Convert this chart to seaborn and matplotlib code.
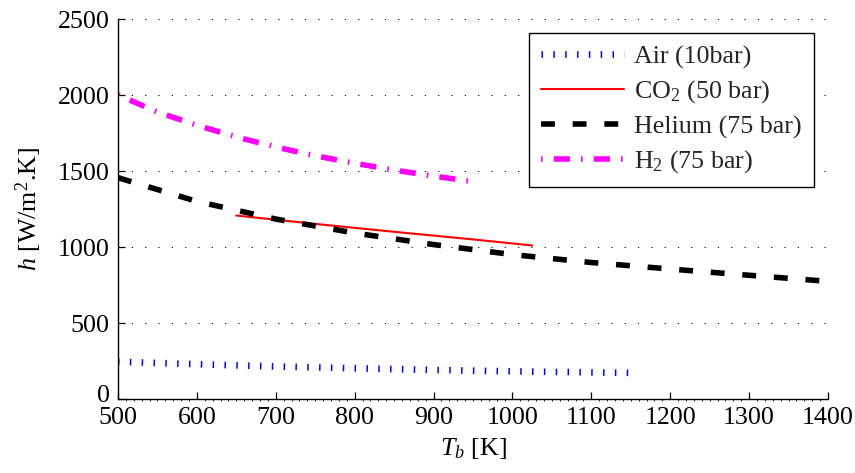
import matplotlib
matplotlib.use("Agg")
import matplotlib.pyplot as plt
import matplotlib.transforms as mtransforms
from matplotlib.ticker import MultipleLocator
import seaborn as sns
import pandas as pd

# ---- data ----
air_T = [500, 600, 700, 800, 900, 1000, 1100, 1150]
air_h = [245, 229, 214, 202, 191, 182, 175, 172]

co2_T = [650, 750, 850, 950, 1025]
co2_h = [1207, 1152, 1100, 1050, 1010]

he_T = [500, 600, 700, 800, 900, 1000, 1100, 1200, 1300, 1400]
he_h = [1456, 1300, 1184, 1092, 1016, 950, 898, 855, 814, 774]

h2_T = [500, 550, 600, 650, 700, 750, 800, 850, 900, 950]
h2_h = [2000, 1888, 1801, 1724, 1658, 1600, 1551, 1506, 1467, 1430]

labels = ["Air (10bar)", "CO$_2$ (50 bar)", "Helium (75 bar)", "H$_2$ (75 bar)"]
x_ticks = [500, 600, 700, 800, 900, 1000, 1100, 1200, 1300, 1400]
y_ticks = [0, 500, 1000, 1500, 2000, 2500]

sns.set_theme(style="white")
plt.rcParams["font.family"] = ["Liberation Serif", "DejaVu Serif"]
plt.rcParams["mathtext.fontset"] = "custom"
plt.rcParams["mathtext.rm"] = "Liberation Serif"
plt.rcParams["mathtext.it"] = "Liberation Serif:italic"
plt.rcParams["mathtext.bf"] = "Liberation Serif:bold"
plt.rcParams["lines.dash_capstyle"] = "butt"

FS = 18.7

fig = plt.figure(figsize=(8.55, 4.73), dpi=100)
ax = fig.add_axes([118 / 855, 74 / 473, 710 / 855, 380 / 473])

series = [
    (air_T, air_h, "blue", 4.8, (0, (0.225, 1.55))),
    (co2_T, co2_h, "red", 1.5, "-"),
    (he_T, he_h, "black", 4.0, (0, (2.5, 3.2))),
    (h2_T, h2_h, "magenta", 4.0, (0, (0.3, 2.0, 2.9, 2.0))),
]

handles = []
for (T, h, col, lw, ls), lab in zip(series, labels):
    df = pd.DataFrame({"T": T, "h": h})
    sns.lineplot(data=df, x="T", y="h", ax=ax, color=col, linewidth=lw,
                 legend=False, estimator=None, sort=False)
    line = ax.lines[-1]
    line.set_linestyle(ls)
    line.set_dash_capstyle("butt")
    line.set_label(lab)
    handles.append(line)

ax.set_xlim(500, 1400)
ax.set_ylim(0, 2500)
ax.set_xticks(x_ticks)
ax.set_yticks(y_ticks)
ax.xaxis.set_minor_locator(MultipleLocator(10))

for sp in ["top", "right"]:
    ax.spines[sp].set_visible(False)
for sp in ["left", "bottom"]:
    ax.spines[sp].set_color("black")
    ax.spines[sp].set_linewidth(1.0)

ax.tick_params(axis="both", which="major", direction="in", length=5, width=0.9,
               color="black", labelsize=FS, labelcolor="black")
ax.tick_params(axis="x", which="major", pad=6, bottom=True)
ax.tick_params(axis="y", which="major", pad=6, left=True)
ax.tick_params(axis="x", which="minor", direction="out", length=1.5, width=0.6,
               color="black", bottom=True)

# nudge the "0" y tick label up slightly so it does not collide with "500"
zero_lab = ax.get_yticklabels()[0]
zero_lab.set_transform(zero_lab.get_transform() +
                       mtransforms.ScaledTranslation(0, 4 / 72, fig.dpi_scale_trans))

ax.grid(False)
for yv in y_ticks[1:]:
    ax.axhline(yv, color="black", linewidth=0.7, linestyle=(0, (1.2, 12.5)), zorder=0.5)

ax.set_xlabel("$T_b$ [K]", fontsize=FS, color="black", labelpad=5)
ax.set_ylabel("$h$ [W/m$^2$.K]", fontsize=FS, color="black", labelpad=10)

leg = ax.legend(handles=handles, labels=labels, loc="upper right", fontsize=FS,
                frameon=True, fancybox=False, framealpha=1, edgecolor="black",
                handlelength=3.2, handletextpad=0.4, labelspacing=0.38,
                borderpad=0.45, borderaxespad=0.55)
leg.get_frame().set_linewidth(1.0)

fig.savefig("out.png", dpi=100)
